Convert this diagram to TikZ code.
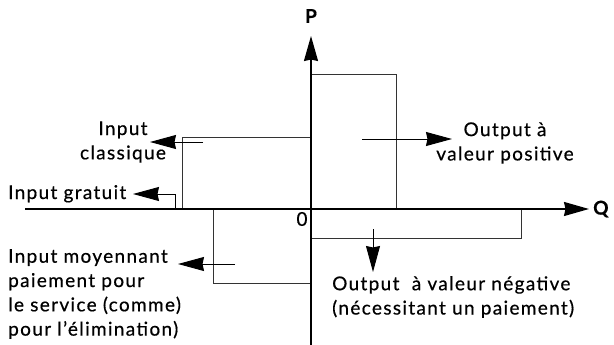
\documentclass[tikz,border=0pt]{standalone}
\usepackage{fontspec}
\setmainfont{Lato}[LetterSpace=7, FakeBold=0.5]
\usetikzlibrary{positioning,arrows.meta}

\begin{document}
\begin{tikzpicture}[x=1pt, y=-1pt]
		\tikzstyle{txt} = [inner sep = 0pt, font = \fontsize{19}{24.3}\selectfont];
		\tikzstyle{axislbl} = [inner sep = 0pt, font = \fontsize{19}{24}\selectfont\bfseries];
		\tikzstyle{block} = [draw = black!80, line width = 0.9pt];
		\tikzstyle{axis} = [draw, line width = 1.4pt, -{Stealth[length = 25pt, width = 14pt, inset = 1.5pt]}];
		\tikzstyle{flow} = [draw, line width = 0.9pt, -{Stealth[length = 26pt, width = 14pt, inset = 1.5pt]}];
		\useasboundingbox (0,0) rectangle (614,345);
		% axes
		\coordinate (o) at (311,209);
		\coordinate (qstart) at (25,209);
		\coordinate (qend) at (589,209);
		\coordinate (pstart) at (311,345);
		\coordinate (pend) at (311,36);
		% blocks
		\draw [block] (182,137) rectangle (o);
		\draw [block] (o) rectangle (396,74);
		\draw [block] (o) rectangle (213,283);
		\draw [block] (o) rectangle (521,238);
		\path [axis] (qstart) -- (qend);
		\path [axis] (pstart) -- (pend);
		\node (q) [axislbl, right = 4pt of qend] {Q};
		\node (p) [axislbl, above = 13pt of pend] {P};
		\node (zero) at (302,219) [txt] {0};
		% labels
		\node (classic) at (123,142) [txt, align = center] {Input\\classique};
		\node (gratuit) at (8,199) [txt, anchor = base west] {Input gratuit};
		\node (positive) at (505,143) [txt, align = center] {Output à\\valeur positive};
		\node (payin) at (8,294) [txt, align = left, anchor = west] {Input moyennant\\paiement pour\\le service (comme)\\pour l’élimination)};
		\node (negative) at (332,297) [txt, align = left, anchor = west] {Output\ \ à valeur négative\\(nécessitant un paiement)};
		% arrows
		\coordinate (classic-from) at (203,142);
		\coordinate (classic-to) at (150,142);
		\coordinate (gratuit-foot) at (175,209);
		\coordinate (gratuit-bend) at (175,194);
		\coordinate (gratuit-to) at (133,194);
		\coordinate (positive-from) at (362,139);
		\coordinate (positive-to) at (452,139);
		\coordinate (negative-from) at (373,229);
		\coordinate (negative-to) at (373,272);
		\coordinate (payin-from) at (235,264);
		\coordinate (payin-to) at (178,264);
		\path [flow] (classic-from) -- (classic-to);
		\path [flow] (gratuit-foot) -- (gratuit-bend) -- (gratuit-to);
		\path [flow] (positive-from) -- (positive-to);
		\path [flow] (negative-from) -- (negative-to);
		\path [flow] (payin-from) -- (payin-to);
	\end{tikzpicture}
\end{document}
